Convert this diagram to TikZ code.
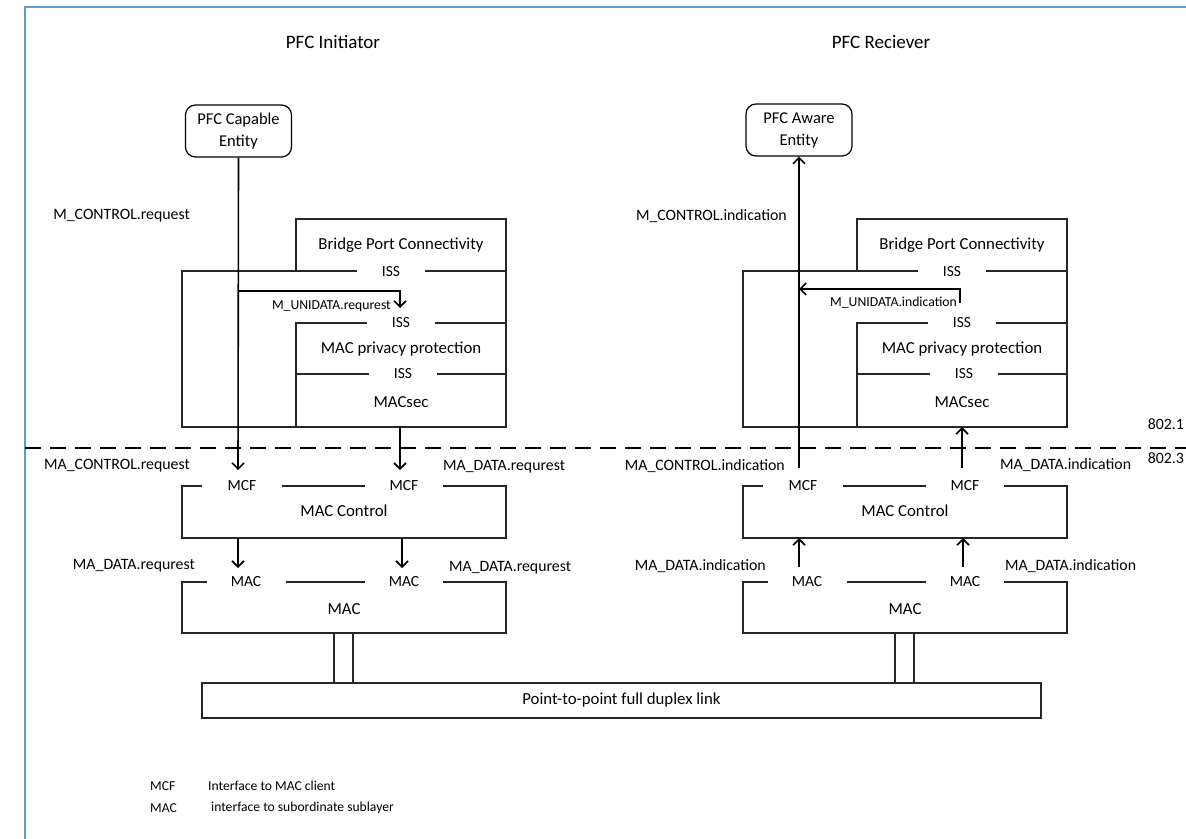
\documentclass[tikz,border=0pt]{standalone}
\usepackage{fontspec}
\setmainfont{Carlito}
\usetikzlibrary{arrows.meta}
\definecolor{frameblue}{RGB}{91,155,213}
\tikzset{
 box/.style={line width=1.2pt, draw=black!85},
 arr/.style={line width=1.6pt, -{Straight Barb[length=6pt,width=12pt]}},
 big/.style={font=\fontsize{16.8}{19}\selectfont, inner sep=0pt},
 title/.style={font=\fontsize{19}{22}\selectfont, inner sep=0pt},
 gaplbl/.style={fill=white, font=\fontsize{15.5}{18}\selectfont, inner sep=0pt, minimum height=14pt},
 lbl/.style={font=\fontsize{15.8}{18}\selectfont, inner sep=0pt},
 small/.style={font=\fontsize{13.7}{16}\selectfont, inner sep=0pt},
 legend/.style={font=\fontsize{13.6}{16}\selectfont, inner sep=0pt, anchor=west},
 entity/.style={draw, line width=1.2pt, rounded corners=10pt, minimum width=106pt, minimum height=52pt, align=center, font=\fontsize{16.5}{22}\selectfont, inner sep=0pt},
}
\newcommand\stackdraw{%
 \draw[box] (296,271) -- (296,219) -- (506,219) -- (506,427) -- (182,427) -- (182,271) -- (506,271);
 \draw[box] (296,427) -- (296,323) -- (506,323);
 \draw[box] (296,374) -- (506,374);
 \draw[box] (182,486) rectangle (506,538);
 \draw[box] (182,582) rectangle (506,633);
 \draw[box] (334,633) -- (334,683) (353,633) -- (353,683);
 \node[big] (bpc) at (401,245) {Bridge Port Connectivity};
 \node[gaplbl, minimum width=68pt] (iss1) at (391,272) {ISS};
 \node[gaplbl, minimum width=68pt] (iss2) at (401,323) {ISS};
 \node[big] (mpp) at (401,349) {MAC privacy protection};
 \node[gaplbl, minimum width=68pt] (iss3) at (403,374) {ISS};
 \node[big] (sec) at (401,402) {MACsec};
 \node[gaplbl, minimum width=80pt] (mcf1) at (242,486) {MCF};
 \node[gaplbl, minimum width=78pt] (mcf2) at (404,486) {MCF};
 \node[big] (ctl) at (344,511) {MAC Control};
 \node[gaplbl, minimum width=79pt] (mac1) at (246,582) {MAC};
 \node[gaplbl, minimum width=78pt] (mac2) at (404,582) {MAC};
 \node[big] (mac) at (344,609) {MAC};
}
\begin{document}
\begin{tikzpicture}[x=1pt,y=-1pt]
\useasboundingbox (0,0) rectangle (1186,838);
\fill[white] (0,0) rectangle (1186,838);
\draw[frameblue, line width=2pt] (25,845) -- (25,7) -- (1195,7);

\node[title] (t1) at (333,42) {PFC Initiator};
\node[title] (t2) at (881,42) {PFC Reciever};

\begin{scope}[name prefix=L-]
 \stackdraw
\end{scope}
\begin{scope}[xshift=561pt, name prefix=R-]
 \stackdraw
\end{scope}

\node[box, draw, minimum width=839pt, minimum height=35pt, big] (link) at (621.5,700.5) {Point-to-point full duplex link};

% dashed separator
\coordinate (dashA) at (25,448);
\coordinate (dashB) at (1190,448);
\draw[line width=1.2pt, dash pattern=on 16pt off 9pt] (dashA) -- (dashB);
\node[lbl, anchor=east] (s1) at (1184,424) {802.1};
\node[lbl, anchor=east] (s3) at (1184,458) {802.3};

% entities
\node[entity] (Lent) at (238.5,131) {PFC Capable\\Entity};
\node[entity] (Rent) at (799,130) {PFC Aware\\Entity};

% left arrows
\coordinate (La) at (238,470);
\coordinate (Lb1) at (238,291);
\coordinate (Lb2) at (400,291);
\coordinate (Lb3) at (400,308);
\coordinate (Lc1) at (400,427);
\coordinate (Lc2) at (400,470);
\coordinate (Ld1) at (238,538);
\coordinate (Ld2) at (238,568);
\coordinate (Le1) at (402,538);
\coordinate (Le2) at (402,568);
\draw[arr] (Lent.south) -- (La);
\draw[arr] (Lb1) -- (Lb2) -- (Lb3);
\draw[arr] (Lc1) -- (Lc2);
\draw[arr] (Ld1) -- (Ld2);
\draw[arr] (Le1) -- (Le2);

% right arrows
\coordinate (Ra) at (799,468);
\coordinate (Rb1) at (960,303);
\coordinate (Rb2) at (960,289);
\coordinate (Rb3) at (799,289);
\coordinate (Rc1) at (962,468);
\coordinate (Rc2) at (962,427);
\coordinate (Rd1) at (799,567);
\coordinate (Rd2) at (799,538);
\coordinate (Re1) at (963,567);
\coordinate (Re2) at (963,538);
\draw[arr] (Ra) -- (Rent.south);
\draw[arr] (Rb1) -- (Rb2) -- (Rb3);
\draw[arr] (Rc1) -- (Rc2);
\draw[arr] (Rd1) -- (Rd2);
\draw[arr] (Re1) -- (Re2);

% left labels
\node[lbl, anchor=east] (lq1) at (190,216) {M\_CONTROL.request};
\node[small, anchor=east] (lq2) at (391,306) {M\_UNIDATA.requrest};
\node[lbl, anchor=east] (lq3) at (190,466) {MA\_CONTROL.request};
\node[lbl, anchor=west] (lq4) at (443,467) {MA\_DATA.requrest};
\node[lbl, anchor=east] (lq5) at (195,566) {MA\_DATA.requrest};
\node[lbl, anchor=west] (lq6) at (449,568) {MA\_DATA.requrest};

% right labels
\node[lbl, anchor=east] (rq1) at (787,216) {M\_CONTROL.indication};
\node[small, anchor=east] (rq2) at (957,303) {M\_UNIDATA.indication};
\node[lbl, anchor=east] (rq3) at (785,466) {MA\_CONTROL.indication};
\node[lbl, anchor=west] (rq4) at (1000,465) {MA\_DATA.indication};
\node[lbl, anchor=east] (rq5) at (766,566) {MA\_DATA.indication};
\node[lbl, anchor=west] (rq6) at (1005,566) {MA\_DATA.indication};

% legend
\node[legend] (g1) at (150,786) {MCF};
\node[legend] (g2) at (208,786) {Interface to MAC client};
\node[legend] (g3) at (150,808) {MAC};
\node[legend] (g4) at (211,808) {interface to subordinate sublayer};
\end{tikzpicture}
\end{document}
